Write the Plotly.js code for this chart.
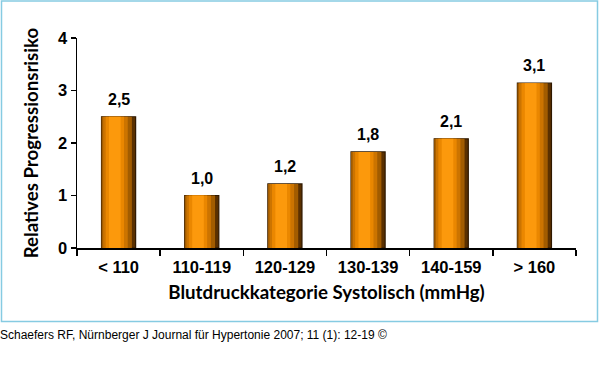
<!DOCTYPE html>
<html><head><meta charset="utf-8">
<script src="https://cdn.plot.ly/plotly-3.0.1.min.js"></script>
<style>html,body{margin:0;padding:0;background:#fff;}#c{width:600px;height:384px;}</style>
</head><body><div id="c"></div>
<script>
var categories = ["< 110", "110-119", "120-129", "130-139", "140-159", "> 160"];
var riskValues = [2.5, 1.0, 1.22, 1.83, 2.08, 3.14];
var valueLabels = ["2,5", "1,0", "1,2", "1,8", "2,1", "3,1"];
var yTickVals = [0, 1, 2, 3, 4];
var yTickText = ["0", "1", "2", "3", "4"];

// shading layers for a cylindrical look (left/right in category units)
var layers = [
  {a: -0.205, b: 0.205, c: "#5a3000"},
  {a: -0.205, b: 0.16, c: "#a25c00"},
  {a: -0.185, b: 0.11, c: "#cc7400"},
  {a: -0.155, b: 0.065, c: "#ea8700"},
  {a: -0.115, b: 0.025, c: "#fc990c"}
];
var traces = layers.map(function(l, i){
  return {
    type: "bar", x: categories, y: riskValues, offset: l.a, width: l.b - l.a,
    marker: {color: l.c, line: {width: i === 0 ? 1.2 : 0, color: "#2e1800"}},
    hoverinfo: "skip", showlegend: false, textposition: "none"
  };
});

var boldArial = {family: "Liberation Sans, Arial, sans-serif", size: 16, color: "#000", weight: "bold"};
var labelAnn = categories.map(function(c, i){
  return {x: c, y: riskValues[i], xref: "x", yref: "y", text: valueLabels[i],
    showarrow: false, xanchor: "center", yanchor: "bottom", yshift: 7,
    font: boldArial};
});

var L = 77, R = 576, T = 38, B = 248;
var W = R - L, H = B - T;
function px(x){ return (x - L) / W; }
function py(y){ return (B - y) / H; }

var layout = {
  width: 600, height: 384,
  margin: {l: L, r: 600 - R, t: T, b: 384 - B},
  paper_bgcolor: "#fff", plot_bgcolor: "#fff",
  barmode: "overlay",
  xaxis: {
    type: "category", range: [-0.5, 5.5], tickson: "boundaries",
    ticks: "outside", ticklen: 6, tickwidth: 1.5, tickcolor: "#000",
    showline: true, linecolor: "#000", linewidth: 1.5, showgrid: false, zeroline: false,
    tickfont: {family: "Liberation Sans, Arial, sans-serif", size: 16.5, color: "#000", weight: "bold"},
    ticklabelstandoff: 4,
    title: {text: "Blutdruckkategorie Systolisch (mmHg)", standoff: 10,
      font: {family: "Lato, sans-serif", size: 18.7, color: "#000", weight: "bold"}},
    fixedrange: true
  },
  yaxis: {
    range: [0, 4], tickvals: yTickVals, ticktext: yTickText,
    ticks: "outside", ticklen: 5, tickwidth: 1.5, tickcolor: "#000",
    showline: true, linecolor: "#000", linewidth: 1.5, showgrid: false, zeroline: false,
    tickfont: {family: "Liberation Sans, Arial, sans-serif", size: 16.5, color: "#000", weight: "bold"},
    title: {text: "Relatives Progressionsrisiko", standoff: 14,
      font: {family: "Lato, sans-serif", size: 18.7, color: "#000", weight: "bold"}},
    fixedrange: true
  },
  shapes: [{
    type: "rect", xref: "paper", yref: "paper",
    x0: px(1.5), x1: px(597.5), y0: py(321.5), y1: py(1),
    line: {color: "#86cbe2", width: 1.5}, layer: "below"
  }],
  annotations: labelAnn.concat([{
    xref: "paper", yref: "paper", x: px(-2), y: py(335), xanchor: "left", yanchor: "middle",
    showarrow: false, text: "Schaefers RF, Nürnberger J Journal für Hypertonie 2007; 11 (1): 12-19 ©",
    font: {family: "Liberation Sans, Arial, sans-serif", size: 12, color: "#000"}
  }])
};
Plotly.newPlot("c", traces, layout, {displayModeBar: false, staticPlot: true});
</script></body></html>
